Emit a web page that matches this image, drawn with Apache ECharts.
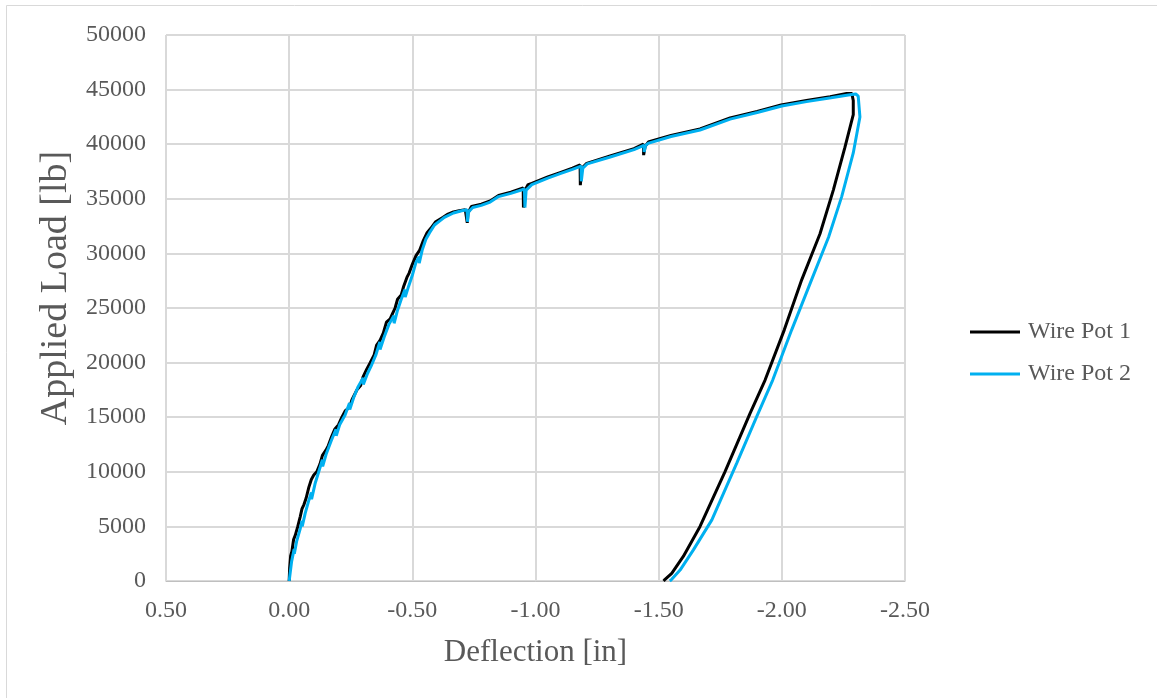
<!DOCTYPE html>
<html>
<head>
<meta charset="utf-8">
<script src="https://cdn.jsdelivr.net/npm/echarts@6/dist/echarts.min.js"></script>
<style>
html,body{margin:0;padding:0;background:#fff;}
#c{width:1157px;height:698px;}
</style>
</head>
<body>
<div id="c"></div>
<script>
// Wire Pot 1 (black): deflection [in], applied load [lb]
const wp1X = [0,-0.002,-0.006,-0.011,-0.018,-0.025,-0.035,-0.045,-0.052,-0.060,-0.069,-0.080,-0.090,-0.100,-0.112,-0.125,-0.135,-0.150,-0.159,-0.172,-0.185,-0.200,-0.214,-0.228,-0.245,-0.255,-0.275,-0.290,-0.300,-0.315,-0.329,-0.345,-0.355,-0.368,-0.382,-0.395,-0.410,-0.420,-0.430,-0.440,-0.455,-0.465,-0.478,-0.487,-0.500,-0.515,-0.530,-0.545,-0.560,-0.575,-0.595,-0.610,-0.625,-0.645,-0.667,-0.690,-0.715,-0.722,-0.723,-0.726,-0.740,-0.780,-0.816,-0.850,-0.900,-0.950,-0.951,-0.955,-0.970,-0.985,-1.050,-1.100,-1.150,-1.181,-1.182,-1.188,-1.208,-1.300,-1.400,-1.438,-1.439,-1.445,-1.458,-1.550,-1.668,-1.790,-1.900,-1.997,-2.100,-2.196,-2.263,-2.284,-2.290,-2.290,-2.256,-2.209,-2.155,-2.081,-2.010,-1.932,-1.871,-1.769,-1.668,-1.600,-1.553,-1.526,-1.520];
const wp1Y = [0,1200,2300,2700,3800,4200,5000,5900,6600,7000,7600,8600,9300,9700,10000,10700,11500,12000,12400,13200,13900,14300,15000,15600,15900,16600,17500,17900,18700,19400,20000,20700,21600,22000,22700,23700,24000,24500,25000,25800,26200,27000,27800,28200,29000,29800,30300,31200,31900,32300,32900,33100,33300,33600,33800,33900,34000,34000,32800,33700,34300,34500,34800,35300,35600,36000,34200,35700,36300,36400,37000,37400,37800,38100,36250,37800,38250,38900,39600,40000,39000,39800,40200,40800,41400,42400,43000,43600,44000,44350,44650,44650,44000,42700,39700,35800,31800,27600,23000,18400,15350,10000,5000,2250,700,150,0];

// Wire Pot 2 (blue)
const wp2X = [0,-0.010,-0.020,-0.021,-0.030,-0.045,-0.052,-0.053,-0.065,-0.080,-0.090,-0.091,-0.105,-0.120,-0.135,-0.136,-0.150,-0.170,-0.190,-0.191,-0.205,-0.227,-0.245,-0.246,-0.262,-0.280,-0.300,-0.301,-0.318,-0.335,-0.352,-0.368,-0.369,-0.385,-0.405,-0.425,-0.426,-0.440,-0.455,-0.470,-0.471,-0.485,-0.500,-0.515,-0.527,-0.528,-0.540,-0.555,-0.570,-0.590,-0.613,-0.630,-0.667,-0.700,-0.722,-0.724,-0.728,-0.745,-0.780,-0.816,-0.850,-0.900,-0.955,-0.957,-0.962,-0.985,-1.050,-1.100,-1.150,-1.185,-1.186,-1.192,-1.210,-1.300,-1.400,-1.440,-1.441,-1.447,-1.460,-1.550,-1.668,-1.790,-1.900,-2.000,-2.100,-2.200,-2.270,-2.300,-2.310,-2.317,-2.290,-2.243,-2.190,-2.121,-2.040,-1.963,-1.898,-1.817,-1.716,-1.641,-1.587,-1.553,-1.545];
const wp2Y = [0,1800,2900,2500,3600,4800,5500,5000,6200,7400,8100,7500,8900,10000,11100,10500,11600,12800,13900,13300,14300,15200,16300,15700,16800,17800,18600,18000,19000,19800,20700,21900,21200,22300,23500,24300,23600,24800,25800,26700,26000,27000,28000,29200,29700,29100,30300,31300,31900,32600,33000,33300,33700,33900,34000,32900,33800,34200,34400,34700,35200,35500,35900,34200,35800,36300,36900,37300,37700,38000,36600,37800,38200,38800,39500,39900,39300,39900,40100,40700,41300,42300,42900,43500,43900,44250,44500,44600,44400,42500,39200,35200,31500,27600,23000,18400,15050,10800,5600,2850,1000,150,0];

const seriesNames = ['Wire Pot 1', 'Wire Pot 2'];
const xTicks = {min: -2.5, max: 0.5, step: 0.5};
const yTicks = {min: 0, max: 50000, step: 5000};

const pairs = (xs, ys) => xs.map((x, i) => [x, ys[i]]);
const FONT = "'Liberation Serif', 'Times New Roman', serif";
const TXT = '#595959';
const GRID = '#d9d9d9';

const chart = echarts.init(document.getElementById('c'));
chart.setOption({
  backgroundColor: '#fff',
  animation: false,
  graphic: [{
    type: 'rect', shape: {x: 6.5, y: 5.5, width: 1200, height: 800},
    style: {fill: 'none', stroke: GRID, lineWidth: 1}, silent: true, z: -10
  }],
  grid: {left: 166, right: 252, top: 35, bottom: 117, containLabel: false},
  legend: {
    orient: 'vertical', left: 970, top: 320, padding: 0,
    itemWidth: 50, itemHeight: 3, itemGap: 18,
    icon: 'rect',
    textStyle: {fontFamily: FONT, fontSize: 24, color: TXT, padding: [0, 0, 0, 3]},
    data: seriesNames
  },
  xAxis: {
    type: 'value', inverse: true,
    min: xTicks.min, max: xTicks.max, interval: xTicks.step,
    name: 'Deflection [in]', nameLocation: 'middle', nameGap: 56,
    nameTextStyle: {fontFamily: FONT, fontSize: 31, color: TXT},
    axisLine: {show: true, onZero: false, lineStyle: {color: '#bfbfbf', width: 1}},
    axisTick: {show: false},
    axisLabel: {fontFamily: FONT, fontSize: 24, color: TXT, margin: 18,
      formatter: v => v.toFixed(2)},
    splitLine: {show: true, lineStyle: {color: GRID, width: 2}}
  },
  yAxis: {
    type: 'value',
    min: yTicks.min, max: yTicks.max, interval: yTicks.step,
    name: 'Applied Load [lb]', nameLocation: 'middle', nameGap: 60,
    nameTextStyle: {fontFamily: FONT, fontSize: 38, color: TXT, padding: [0, 0, 0, 40]},
    axisLine: {show: false},
    axisTick: {show: false},
    axisLabel: {fontFamily: FONT, fontSize: 24, color: TXT, margin: 20,
      formatter: v => String(v)},
    splitLine: {show: true, lineStyle: {color: GRID, width: 2}}
  },
  series: [
    {name: seriesNames[0], type: 'line', data: pairs(wp1X, wp1Y), showSymbol: false,
      lineStyle: {color: '#000000', width: 3}, itemStyle: {color: '#000000'}, z: 2},
    {name: seriesNames[1], type: 'line', data: pairs(wp2X, wp2Y), showSymbol: false,
      lineStyle: {color: '#00b0f0', width: 3}, itemStyle: {color: '#00b0f0'}, z: 3}
  ]
});
</script>
</body>
</html>
